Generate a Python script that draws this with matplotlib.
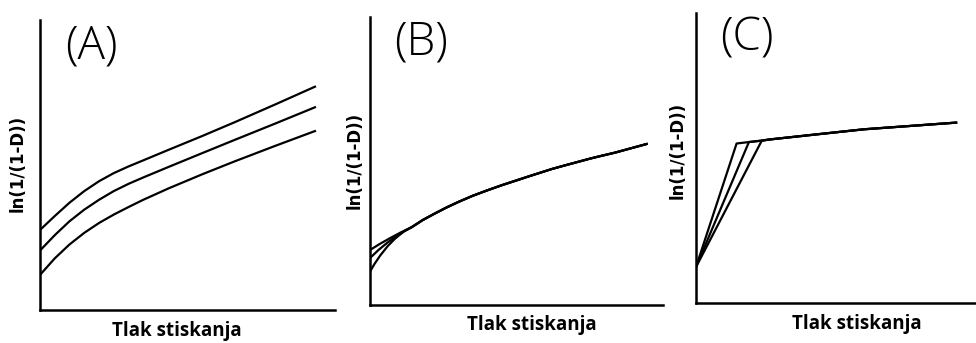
import matplotlib
matplotlib.use("Agg")
import matplotlib.pyplot as plt

# panel A - three roughly parallel curves
a_x = [0.0, 0.5, 1.0, 1.5, 2.0, 2.5, 3.0, 3.5, 4.35, 5.5, 6.61, 8.0, 9.32]
a_top = [2.76, 3.24, 3.70, 4.10, 4.44, 4.72, 4.95, 5.16, 5.52, 6.00, 6.48, 7.10, 7.70]
a_mid = [2.05, 2.58, 3.06, 3.46, 3.80, 4.10, 4.35, 4.57, 4.93, 5.41, 5.87, 6.44, 6.99]
a_bot = [1.21, 1.78, 2.26, 2.66, 3.00, 3.29, 3.55, 3.80, 4.19, 4.68, 5.13, 5.67, 6.17]

# panel B - three starts that merge into one curve
b_tail_x = [1.42, 1.8, 2.2, 2.6, 3.02, 3.5, 4.0, 4.5, 4.95, 5.4, 5.8, 6.2,
            6.66, 7.1, 7.5, 7.9, 8.36, 8.9, 9.44]
b_tail_y = [2.70, 2.95, 3.17, 3.38, 3.58, 3.79, 3.98, 4.16, 4.31, 4.46, 4.59, 4.72,
            4.85, 4.97, 5.08, 5.18, 5.29, 5.44, 5.59]
b_head_x = [[0.0, 0.35, 0.7, 1.05],
            [0.0, 0.3, 0.6, 0.9, 1.2],
            [0.0, 0.15, 0.35, 0.6, 0.85, 1.15]]
b_head_y = [[1.91, 2.13, 2.33, 2.52],
            [1.63, 1.92, 2.17, 2.39, 2.58],
            [1.16, 1.42, 1.72, 2.04, 2.30, 2.55]]

# panel C - steep rise then a common plateau
c_start = (0.0, 1.24)
c_kink_x = [1.45, 1.89, 2.35]
c_kink_y = [5.50, 5.55, 5.60]
c_plat_x = [2.64, 4.07, 6.0, 9.29]
c_plat_y = [5.64, 5.79, 5.99, 6.22]

ylab = "ln(1/(1-D))"
xlab = "Tlak stiskanja"
panel_names = ["(A)", "(B)", "(C)"]

W, H = 976, 343
fig = plt.figure(figsize=(W / 100, H / 100), dpi=100)

def frac(px_l, px_r, px_t, px_b):
    return [px_l / W, 1 - px_b / H, (px_r - px_l) / W, (px_b - px_t) / H]

axA = fig.add_axes(frac(40, 335, 20, 310))
axB = fig.add_axes(frac(370, 663, 17, 305))
axC = fig.add_axes(frac(696, 976, 13, 303))
axes = [axA, axB, axC]

lw = 1.6
for y in (a_top, a_mid, a_bot):
    axA.plot(a_x, y, color="black", lw=lw)

for hx, hy in zip(b_head_x, b_head_y):
    axB.plot(hx + b_tail_x, hy + b_tail_y, color="black", lw=lw)

for i in range(3):
    xs = [c_start[0]] + c_kink_x[i:] + c_plat_x
    ys = [c_start[1]] + c_kink_y[i:] + c_plat_y
    axC.plot(xs, ys, color="black", lw=lw)

for ax in axes:
    ax.set_xlim(0, 10)
    ax.set_ylim(0, 10)
    ax.set_xticks([])
    ax.set_yticks([])
    for s in ("top", "right"):
        ax.spines[s].set_visible(False)
    for s in ("left", "bottom"):
        ax.spines[s].set_linewidth(1.8)
    ax.patch.set_alpha(0)

# panel letters
letter_font = ["Open Sans", "DejaVu Sans"]
for (cx, cy), name in zip([(91, 47), (421, 43), (747, 38)], panel_names):
    fig.text(cx / W, 1 - cy / H, name, fontsize=33, fontweight="light",
             ha="center", va="center", family=letter_font)

# axis titles
for cx, cy in [(18, 163), (355, 160), (678, 150)]:
    fig.text(cx / W, 1 - cy / H, ylab, rotation=90, fontsize=12, fontweight="bold",
             ha="center", va="center", family=["DejaVu Sans"])
for cx, cy in [(177, 331), (532, 325), (857, 324)]:
    fig.text(cx / W, 1 - cy / H, xlab, fontsize=13.5, fontweight="bold",
             ha="center", va="center", family=["Open Sans", "DejaVu Sans"])

fig.savefig("out.png", dpi=100)
